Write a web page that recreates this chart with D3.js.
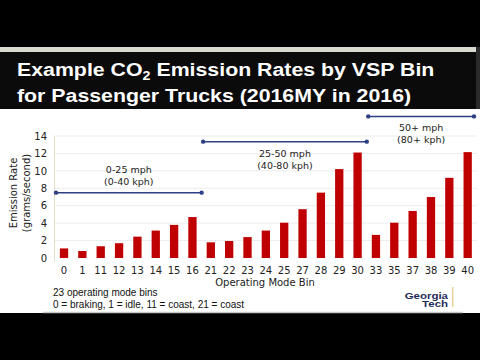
<!DOCTYPE html>
<html><head><meta charset="utf-8">
<script src="https://cdn.jsdelivr.net/npm/d3@7"></script>
<style>html,body{margin:0;padding:0;background:#000;}svg{display:block;}</style>
</head><body>
<script>
const bins = ["0","1","11","12","13","14","15","16","21","22","23","24","25","27","28","29","30","33","35","37","38","39","40"];
const rates = [1.1,0.8,1.35,1.7,2.45,3.15,3.8,4.7,1.8,1.95,2.4,3.15,4.05,5.6,7.5,10.2,12.1,2.65,4.05,5.4,7.0,9.2,12.15];
const yTicks = [0,2,4,6,8,10,12,14];
const speedLines = ["0-25 mph","25-50 mph","50+ mph"];
const speedKph = ["(0-40 kph)","(40-80 kph)","(80+ kph)"];
const speedLevel = [7.5,13.35,16.25];
const speedFrom = [null,"16","30"];
const speedTo = ["21","33",null];
const notes = ["23 operating mode bins","0 = braking, 1 = idle, 11 = coast, 21 = coast"];

const W=480,H=360;
const svg=d3.select("body").append("svg").attr("width",W).attr("height",H);
svg.append("rect").attr("width",W).attr("height",H).attr("fill","#000");
// slide
svg.append("rect").attr("x",0).attr("y",47).attr("width",480).attr("height",266).attr("fill","#fff");
svg.append("rect").attr("x",0).attr("y",47).attr("width",476).attr("height",5).attr("fill","#d9d9d2");
svg.append("rect").attr("x",0).attr("y",52).attr("width",476).attr("height",57).attr("fill","#0b0b0b");
svg.append("rect").attr("x",476).attr("y",47).attr("width",4).attr("height",62).attr("fill","#2a2a2a");
svg.append("line").attr("x1",43).attr("x2",463).attr("y1",312.5).attr("y2",312.5).attr("stroke","#c8c8c8").attr("stroke-width",1.5);

const tf="Liberation Sans, Arial, sans-serif";
const t1=svg.append("text").attr("transform","translate(17,76) scale(1.14,1)").attr("fill","#fff")
  .attr("font-family",tf).attr("font-weight","bold").attr("font-size",18.7);
t1.append("tspan").text("Example CO");
t1.append("tspan").attr("font-size",12.5).attr("dy",4).text("2");
t1.append("tspan").attr("dy",-4).text(" Emission Rates by VSP Bin");
svg.append("text").attr("transform","translate(17,102) scale(1.14,1)").attr("fill","#fff")
  .attr("font-family",tf).attr("font-weight","bold").attr("font-size",18.7)
  .text("for Passenger Trucks (2016MY in 2016)");

const font="DejaVu Sans, sans-serif";
const x=d3.scaleBand().domain(bins).range([54,477.7]).paddingInner(0.548).paddingOuter(0.32);
const y=d3.scaleLinear().domain([0,14]).range([258,136]);

// grid
svg.append("g").selectAll("line").data(yTicks.slice(1)).join("line")
  .attr("x1",54).attr("x2",477).attr("y1",d=>y(d)).attr("y2",d=>y(d))
  .attr("stroke","#ececec").attr("stroke-width",1);
svg.append("line").attr("x1",54.5).attr("x2",54.5).attr("y1",y(14)).attr("y2",y(0)+4).attr("stroke","#e4e0c8");

const ya=svg.append("g").attr("transform","translate(54,0)")
  .call(d3.axisLeft(y).tickValues(yTicks).tickSize(0).tickPadding(7).tickFormat(d3.format("d")));
ya.select(".domain").remove();
ya.selectAll("text").attr("font-family",font).attr("font-size",10).attr("fill","#222");

const xa=svg.append("g").attr("transform","translate(0,262)")
  .call(d3.axisBottom(x).tickSize(0).tickPadding(5));
xa.select(".domain").remove();
xa.selectAll("text").attr("font-family",font).attr("font-size",10).attr("fill","#222");

svg.append("g").selectAll("rect").data(rates).join("rect")
  .attr("x",(d,i)=>x(bins[i])).attr("width",x.bandwidth())
  .attr("y",d=>y(d)).attr("height",d=>y(0)-y(d)).attr("fill","#c00000");

// speed ranges
const bnd=b=>{const i=bins.indexOf(b);return (x(bins[i-1])+x(b)+x.bandwidth())/2;};
speedLines.forEach((s,i)=>{
  const x1 = speedFrom[i]===null ? 56 : bnd(bins[bins.indexOf(speedFrom[i])+1])+1.5;
  const x2 = speedTo[i]===null ? 474 : bnd(speedTo[i]);
  const yy=y(speedLevel[i]);
  svg.append("line").attr("x1",x1).attr("x2",x2).attr("y1",yy).attr("y2",yy).attr("stroke","#2e3f86").attr("stroke-width",1.5);
  svg.append("circle").attr("cx",x1).attr("cy",yy).attr("r",2.2).attr("fill","#2e3f86");
  svg.append("circle").attr("cx",x2).attr("cy",yy).attr("r",2.2).attr("fill","#2e3f86");
  const cx=(x1+x2)/2;
  const ty1 = i===0 ? yy-20 : yy+15;
  svg.append("text").attr("x",cx).attr("y",ty1).attr("text-anchor","middle").attr("font-family",font).attr("font-size",9.5).attr("fill","#222").text(s);
  svg.append("text").attr("x",cx).attr("y",ty1+12).attr("text-anchor","middle").attr("font-family",font).attr("font-size",9.5).attr("fill","#222").text(speedKph[i]);
});

// axis titles
svg.append("text").attr("transform","translate(17,193) rotate(-90)").attr("text-anchor","middle")
  .attr("font-family",font).attr("font-size",10).attr("fill","#222").text("Emission Rate");
svg.append("text").attr("transform","translate(30,193) rotate(-90)").attr("text-anchor","middle")
  .attr("font-family",font).attr("font-size",10).attr("fill","#222").text("(grams/second)");
svg.append("text").attr("x",265).attr("y",286).attr("text-anchor","middle")
  .attr("font-family",font).attr("font-size",10).attr("fill","#222").text("Operating Mode Bin");

notes.forEach((n,i)=>{
  svg.append("text").attr("x",53).attr("y",296+i*12).attr("font-family",tf)
    .attr("font-size",10).attr("fill","#111").text(n);
});

// logo
svg.append("text").attr("transform","translate(448,298.5) scale(1.35,1)").attr("text-anchor","end").attr("font-family",tf)
  .attr("font-weight","bold").attr("font-size",8.5).attr("fill","#1f2a5c").text("Georgia");
svg.append("text").attr("transform","translate(448,306.5) scale(1.35,1)").attr("text-anchor","end").attr("font-family",tf)
  .attr("font-weight","bold").attr("font-size",8.5).attr("fill","#1f2a5c").text("Tech");
svg.append("rect").attr("x",452).attr("y",287).attr("width",1.5).attr("height",20).attr("fill","#e6d39a");
</script>
</body></html>
